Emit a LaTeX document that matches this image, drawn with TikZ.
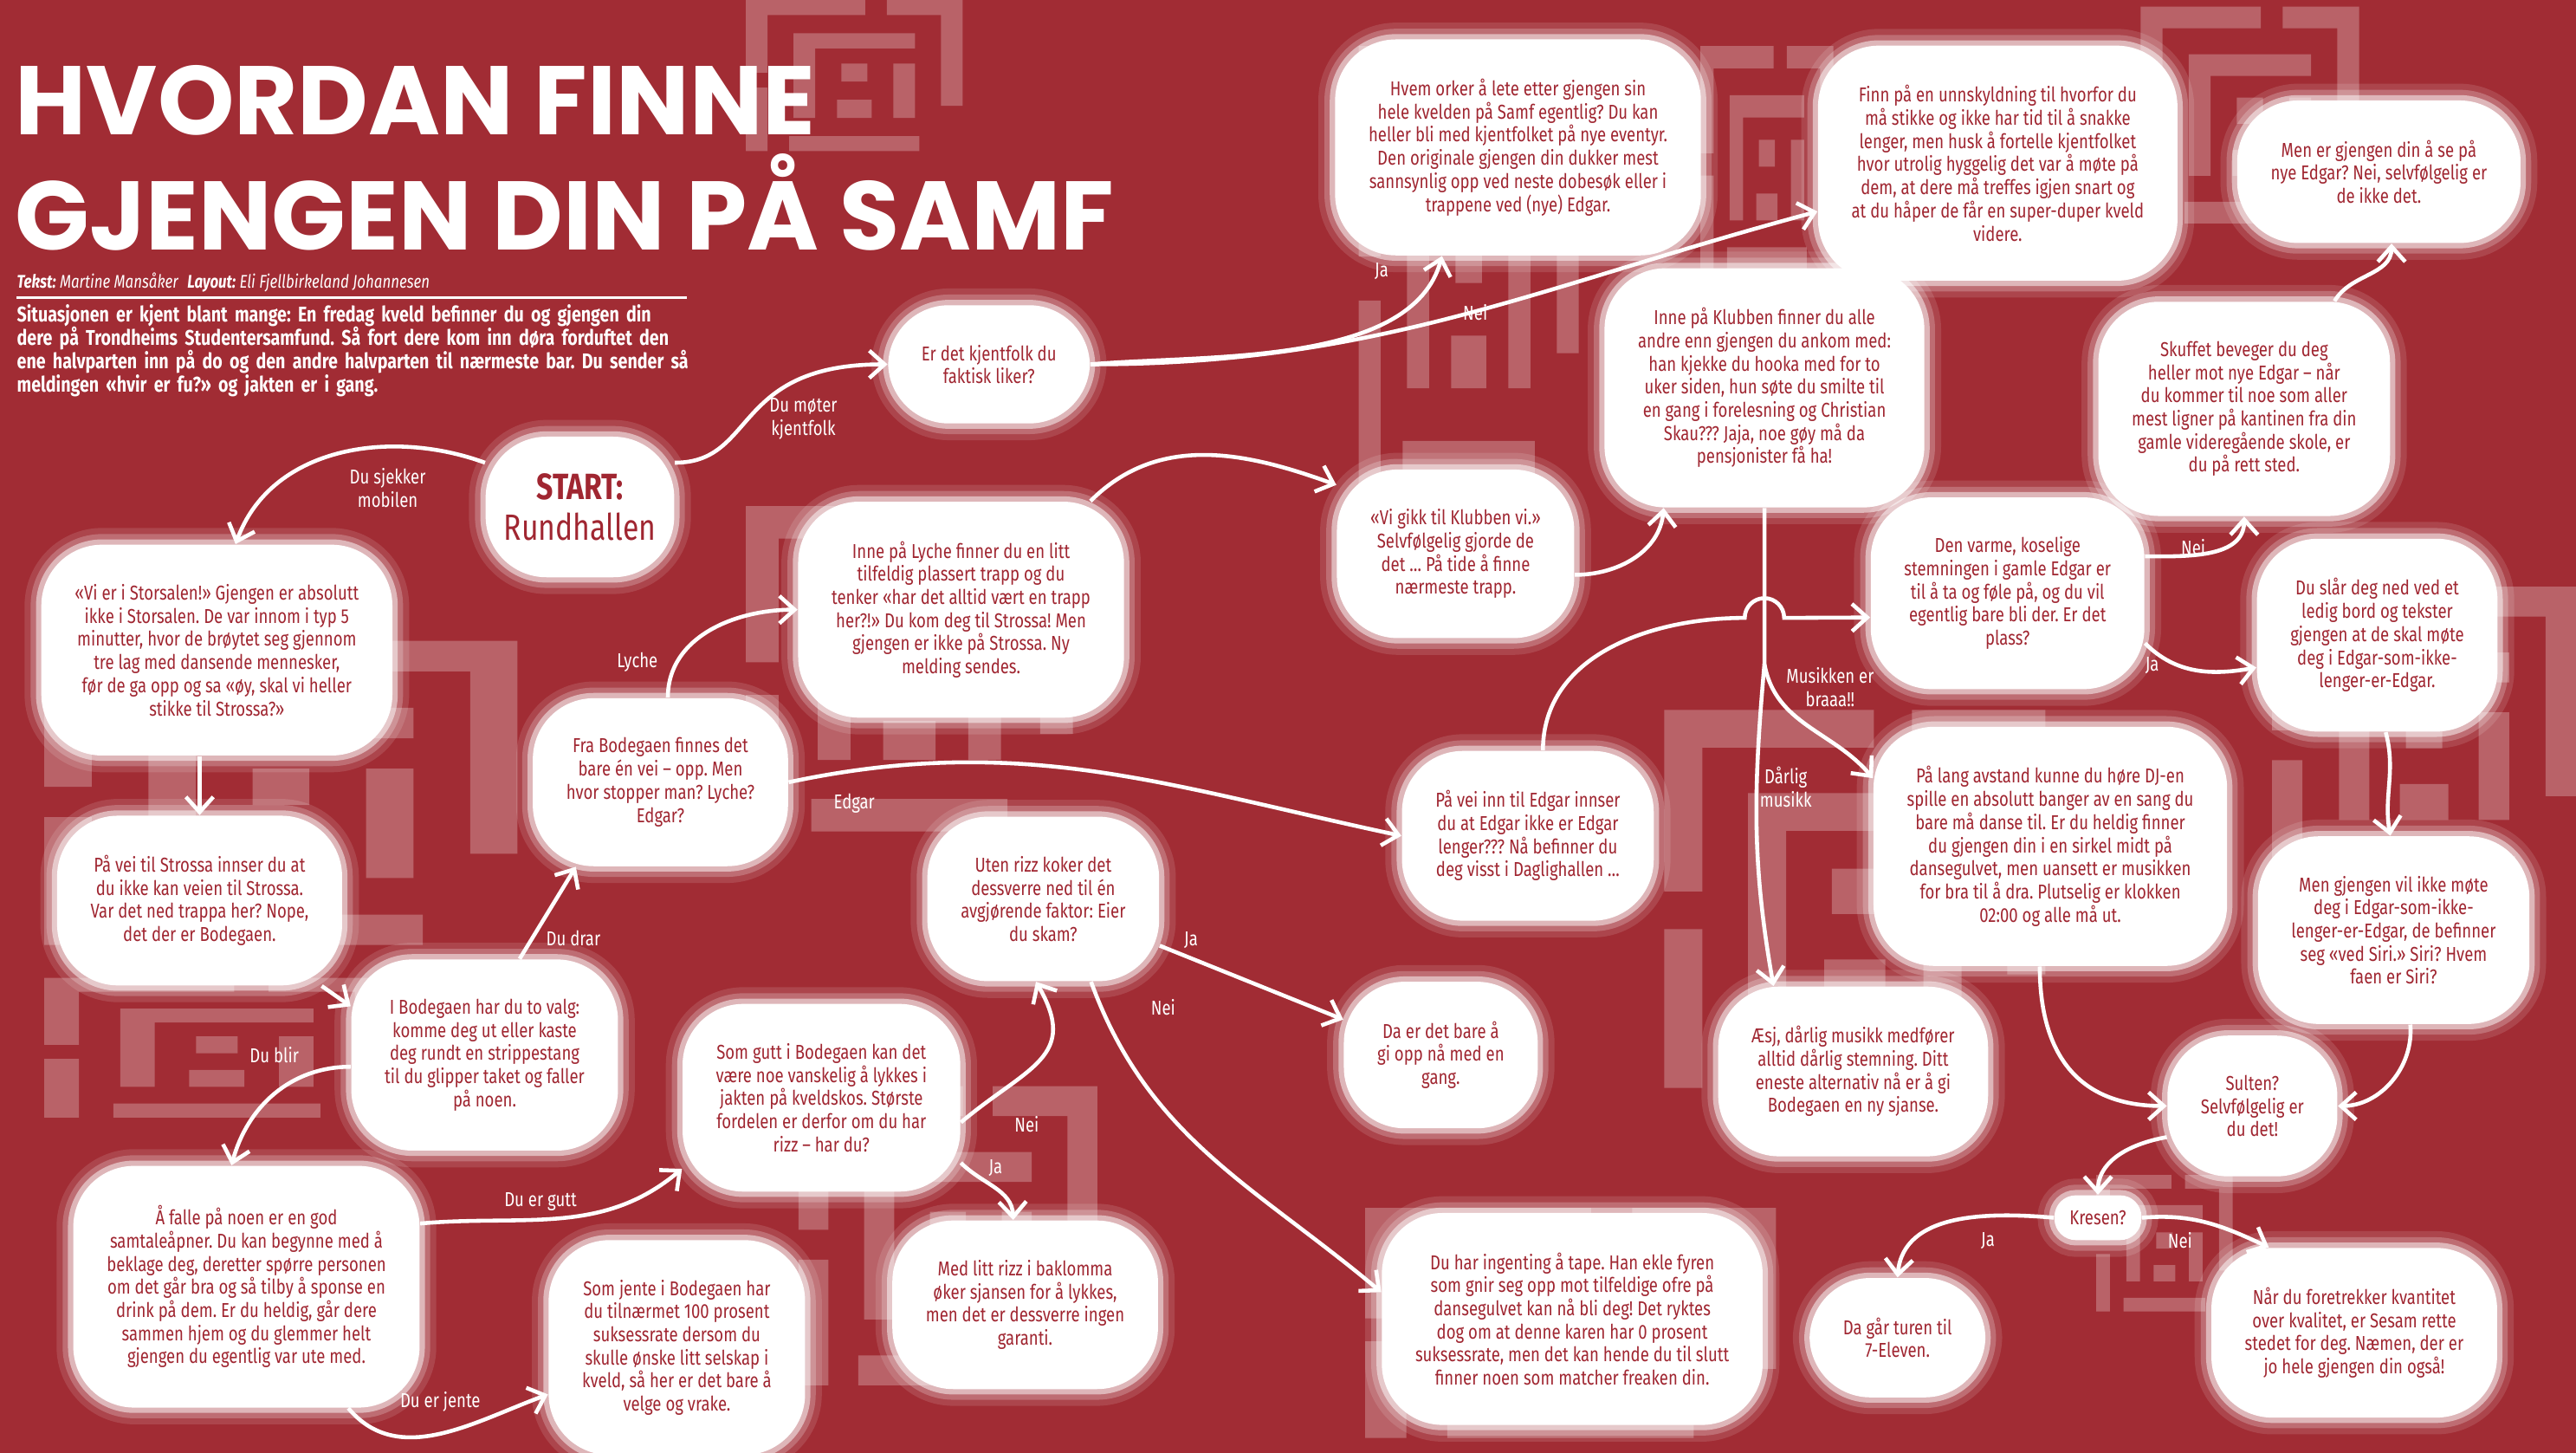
\documentclass[tikz,border=0pt]{standalone}
\usepackage{fontspec}
\usepackage{tikz}
\usetikzlibrary{arrows.meta,calc}
\setmainfont{Fira Sans}[FakeStretch=0.8]
\newfontfamily\titlefont{Poppins}
\definecolor{samfred}{RGB}{161,44,52}
\definecolor{ink}{RGB}{160,38,49}
\newcommand\cloudfont{\fontsize{6.6}{7.6}\selectfont}
\newcommand\startfont{\fontsize{12}{13.5}\selectfont}
\newcommand\mazeblock[4]{%
  % #1,#2: lower left corner, #3: width, #4: height
  \begin{scope}[shift={(#1,#2)}, xscale=#3, yscale=#4]
    \fill[tile] (0,0) rectangle (.1,.42) (0,.52) rectangle (.1,1)
      (.1,.9) rectangle (.55,1) (.65,.9) rectangle (1,1) (.9,.3) rectangle (1,.9)
      (.2,0) rectangle (.8,.1) (.22,.22) rectangle (.32,.78) (.32,.68) rectangle (.78,.78)
      (.68,.22) rectangle (.78,.58) (.42,.22) rectangle (.58,.34) (.44,.46) rectangle (.56,.58);
  \end{scope}}

\begin{document}
\frenchspacing
\begin{tikzpicture}[x=0.18967mm, y=0.18967mm,
  tile/.style={fill=white, opacity=.26},
  puff/.style={rectangle, rounded corners=20pt, fill=white, text=ink, font=\cloudfont, align=center,
    inner xsep=11pt, inner ysep=13pt,
    preaction={draw=white, line width=11pt, opacity=.12},
    preaction={draw=white, line width=7pt, opacity=.22},
    preaction={draw=white, line width=3.5pt, opacity=.5}},
  wire/.style={draw=white, line width=1.3pt, -{Straight Barb[length=5pt, width=9pt]}},
  lbl/.style={text=white, font=\cloudfont, align=center, inner sep=1pt}]
\fill[samfred] (0,0) rectangle (1568,-884);
\useasboundingbox (0,0) rectangle (1568,-884);

% background maze
\mazeblock{454}{-92}{132}{92}
\mazeblock{27}{-575}{288}{185}
\mazeblock{27}{-680}{210}{85}
\mazeblock{454}{-506}{199}{198}
\mazeblock{827}{-295}{134}{267}
\mazeblock{1035}{-164}{81}{136}
\mazeblock{1303}{-136}{133}{132}
\mazeblock{1383}{-539}{185}{182}
\mazeblock{1013}{-662}{232}{230}
\mazeblock{831}{-875}{250}{140}
\mazeblock{486}{-843}{182}{182}
\mazeblock{1276}{-798}{83}{83}

% heading
\node[anchor=base west, inner sep=0, text height=23pt, text depth=0pt, text=white, font=\titlefont\bfseries\fontsize{32}{38}\selectfont] (title1) at (9,-82) {HVORDAN FINNE};
\node[anchor=base west, inner sep=0, text height=23pt, text depth=0pt, text=white, font=\titlefont\bfseries\fontsize{32}{38}\selectfont] (title2) at (9,-152) {GJENGEN DIN PÅ SAMF};
\node[anchor=west, inner sep=0, text=white, font=\fontsize{6}{7}\selectfont\itshape] (byline) at (10,-172) {\textbf{Tekst:} Martine Mansåker\enspace\textbf{Layout:} Eli Fjellbirkeland Johannesen};
\draw[white, line width=.8pt] (10,-181) -- (418,-181);
\node[anchor=north west, inner sep=0, text=white, font=\bfseries\fontsize{7}{7.7}\selectfont, text width=77.95mm] (intro) at (10,-185) {\noindent
\makebox[77.95mm][s]{Situasjonen er kjent blant mange: En fredag kveld befinner du og gjengen din}\\
\makebox[77.95mm][s]{dere på Trondheims Studentersamfund. Så fort dere kom inn døra forduftet den}\\
\makebox[77.95mm][s]{ene halvparten inn på do og den andre halvparten til nærmeste bar. Du sender så}\\
meldingen «hvir er fu?» og jakten er i gang.};

% clouds
\node[puff, font=\startfont, inner xsep=6pt, inner ysep=12pt] (start) at (353,-308.5) {\textbf{START:}\\Rundhallen};
\node[puff] (storsalen) at (132,-395.6) {«Vi er i Storsalen!» Gjengen er absolutt\\ikke i Storsalen. De var innom i typ 5\\minutter, hvor de brøytet seg gjennom\\tre lag med dansende mennesker,\\før de ga opp og sa «øy, skal vi heller\\stikke til Strossa?»};
\node[puff] (strossa) at (121.5,-548) {På vei til Strossa innser du at\\du ikke kan veien til Strossa.\\Var det ned trappa her? Nope,\\det der er Bodegaen.};
\node[puff] (valg) at (295,-642) {I Bodegaen har du to valg:\\komme deg ut eller kaste\\deg rundt en strippestang\\til du glipper taket og faller\\på noen.};
\node[puff] (fra) at (402,-476) {Fra Bodegaen finnes det\\bare én vei – opp. Men\\hvor stopper man? Lyche?\\Edgar?};
\node[puff] (falle) at (150,-783) {Å falle på noen er en god\\samtaleåpner. Du kan begynne med å\\beklage deg, deretter spørre personen\\om det går bra og så tilby å sponse en\\drink på dem. Er du heldig, går dere\\sammen hjem og du glemmer helt\\gjengen du egentlig var ute med.};
\node[puff] (lyche) at (585,-371) {Inne på Lyche finner du en litt\\tilfeldig plassert trapp og du\\tenker «har det alltid vært en trapp\\her?!» Du kom deg til Strossa! Men\\gjengen er ikke på Strossa. Ny\\melding sendes.};
\node[puff] (kjentfolk) at (602,-221.7) {Er det kjentfolk du\\faktisk liker?};
\node[puff] (eventyr) at (924,-89.7) {Hvem orker å lete etter gjengen sin\\hele kvelden på Samf egentlig? Du kan\\heller bli med kjentfolket på nye eventyr.\\Den originale gjengen din dukker mest\\sannsynlig opp ved neste dobesøk eller i\\trappene ved (nye) Edgar.};
\node[puff] (unnskyld) at (1216,-99.3) {Finn på en unnskyldning til hvorfor du\\må stikke og ikke har tid til å snakke\\lenger, men husk å fortelle kjentfolket\\hvor utrolig hyggelig det var å møte på\\dem, at dere må treffes igjen snart og\\at du håper de får en super-duper kveld\\videre.};
\node[puff] (nyeedgar) at (1448,-104.5) {Men er gjengen din å se på\\nye Edgar? Nei, selvfølgelig er\\de ikke det.};
\node[puff] (klubben) at (1074,-236) {Inne på Klubben finner du alle\\andre enn gjengen du ankom med:\\han kjekke du hooka med for to\\uker siden, hun søte du smilte til\\en gang i forelesning og Christian\\Skau??? Jaja, noe gøy må da\\pensjonister få ha!};
\node[puff] (vigikk) at (886,-337) {«Vi gikk til Klubben vi.»\\Selvfølgelig gjorde de\\det … På tide å finne\\nærmeste trapp.};
\node[puff] (skuffet) at (1366,-248.8) {Skuffet beveger du deg\\heller mot nye Edgar – når\\du kommer til noe som aller\\mest ligner på kantinen fra din\\gamle videregående skole, er\\du på rett sted.};
\node[puff] (varme) at (1222,-361) {Den varme, koselige\\stemningen i gamle Edgar er\\til å ta og føle på, og du vil\\egentlig bare bli der. Er det\\plass?};
\node[puff] (bord) at (1447,-386.5) {Du slår deg ned ved et\\ledig bord og tekster\\gjengen at de skal møte\\deg i Edgar-som-ikke-\\lenger-er-Edgar.};
\node[puff] (daglig) at (930,-508.6) {På vei inn til Edgar innser\\du at Edgar ikke er Edgar\\lenger??? Nå befinner du\\deg visst i Daglighallen …};
\node[puff] (utenrizz) at (635,-547) {Uten rizz koker det\\dessverre ned til én\\avgjørende faktor: Eier\\du skam?};
\node[puff] (gutt) at (500,-668) {Som gutt i Bodegaen kan det\\være noe vanskelig å lykkes i\\jakten på kveldskos. Største\\fordelen er derfor om du har\\rizz – har du?};
\node[puff] (jente) at (412,-820) {Som jente i Bodegaen har\\du tilnærmet 100 prosent\\suksessrate dersom du\\skulle ønske litt selskap i\\kveld, så her er det bare å\\velge og vrake.};
\node[puff] (rizz) at (624,-794) {Med litt rizz i baklomma\\øker sjansen for å lykkes,\\men det er dessverre ingen\\garanti.};
\node[puff] (giopp) at (877,-642) {Da er det bare å\\gi opp nå med en\\gang.};
\node[puff] (ingenting) at (957,-802.6) {Du har ingenting å tape. Han ekle fyren\\som gnir seg opp mot tilfeldige ofre på\\dansegulvet kan nå bli deg! Det ryktes\\dog om at denne karen har 0 prosent\\suksessrate, men det kan hende du til slutt\\finner noen som matcher freaken din.};
\node[puff] (aesj) at (1128,-652) {Æsj, dårlig musikk medfører\\alltid dårlig stemning. Ditt\\eneste alternativ nå er å gi\\Bodegaen en ny sjanse.};
\node[puff] (dj) at (1248,-515) {På lang avstand kunne du høre DJ-en\\spille en absolutt banger av en sang du\\bare må danse til. Er du heldig finner\\du gjengen din i en sirkel midt på\\dansegulvet, men uansett er musikken\\for bra til å dra. Plutselig er klokken\\02:00 og alle må ut.};
\node[puff] (siri) at (1457,-566) {Men gjengen vil ikke møte\\deg i Edgar-som-ikke-\\lenger-er-Edgar, de befinner\\seg «ved Siri.» Siri? Hvem\\faen er Siri?};
\node[puff] (sulten) at (1371,-673) {Sulten?\\Selvfølgelig er\\du det!};
\node[puff, inner xsep=5pt, inner ysep=5pt, rounded corners=7pt] (kresen) at (1277,-741) {Kresen?};
\node[puff] (eleven) at (1155,-814) {Da går turen til\\7-Eleven.};
\node[puff] (sesam) at (1433,-811) {Når du foretrekker kvantitet\\over kvalitet, er Sesam rette\\stedet for deg. Næmen, der er\\jo hele gjengen din også!};

% connectors
\coordinate (split) at (1074,-404);
\coordinate (hop) at (1062,-376);
\draw[wire] (start.155) to[out=160, in=70] (storsalen.80);
\draw[wire] (start.25) .. controls +(50,0) and +(-95,0) .. (kjentfolk.west);
\draw[wire] (storsalen.south -| strossa.north) -- (strossa.north);
\draw[wire] (strossa) -- (valg.160);
\draw[wire] (valg.70) -- (fra.225);
\draw[wire] (valg.185) to[out=180, in=75] (falle.97);
\draw[wire] (fra.85) to[out=90, in=180] (lyche.west);
\draw[wire] (fra.east) to[out=12, in=168] (daglig.west);
\draw[wire] (falle.20) to[out=5, in=220] (gutt.207);
\draw[wire] (falle.-50) to[out=-50, in=200] (jente.200);
\draw[wire] (gutt.-10) to[out=40, in=-60, looseness=1.4] (utenrizz.265);
\draw[wire] (gutt.-25) to[out=-45, in=92] (rizz.98);
\draw[wire] (utenrizz) -- (giopp.160);
\draw[wire] (utenrizz.-60) to[out=-70, in=140] (ingenting.172);
\draw[wire] (kjentfolk.east) to[out=5, in=-105, looseness=.8] (eventyr.235);
\draw[wire] (kjentfolk.east) to[out=0, in=195] (unnskyld.195);
\draw[wire] (lyche.40) to[out=45, in=160] (vigikk.150);
\draw[wire] (vigikk.-10) to[out=0, in=-95] (klubben.230);
\draw[wire] (klubben.south) -- (split) to[out=-80, in=130] (dj.159);
\draw[wire] (split) to[out=-95, in=100] (aesj.133);
\draw[wire] (daglig.80) to[out=90, in=180] (hop) arc[start angle=180, end angle=0, radius=12] -- (varme.190);
\draw[wire] (varme.15) to[out=0, in=-90] (skuffet.south);
\draw[wire] (varme.-20) to[out=-45, in=190] (bord.195);
\draw[wire] (skuffet.50) to[out=60, in=-90] (nyeedgar.-80);
\draw[wire] (bord.-85) to[out=-75, in=100] (siri.92);
\draw[wire] (siri.-80) to[out=-85, in=0] (sulten.east);
\draw[wire] (dj.-95) to[out=-90, in=180, looseness=1.2] (sulten.west);
\draw[wire] (sulten.200) to[out=190, in=90] (kresen.north);
\draw[wire] (kresen.west) to[out=175, in=85] (eleven.north);
\draw[wire] (kresen.east) to[out=5, in=155] (sesam.135);

% connector labels
\node[lbl] (l-mobil) at (236,-297) {Du sjekker\\mobilen};
\node[lbl] (l-kjent) at (489,-255) {Du møter\\kjentfolk};
\node[lbl] (l-lyche) at (388,-403) {Lyche};
\node[lbl] (l-edgar) at (520,-489) {Edgar};
\node[lbl] (l-drar) at (349,-571) {Du drar};
\node[lbl] (l-blir) at (167,-642) {Du blir};
\node[lbl] (l-gutt) at (329,-731) {Du er gutt};
\node[lbl] (l-jente) at (268,-853) {Du er jente};
\node[lbl] (l-nei1) at (625,-684) {Nei};
\node[lbl] (l-ja1) at (606,-711) {Ja};
\node[lbl] (l-ja2) at (725,-572) {Ja};
\node[lbl] (l-nei2) at (708,-613) {Nei};
\node[lbl] (l-ja3) at (841,-165) {Ja};
\node[lbl] (l-nei3) at (898,-190) {Nei};
\node[lbl] (l-braa) at (1114,-418) {Musikken er\\braaa!!};
\node[lbl] (l-darlig) at (1087,-479) {Dårlig\\musikk};
\node[lbl] (l-nei4) at (1335,-333) {Nei};
\node[lbl] (l-ja4) at (1310,-405) {Ja};
\node[lbl] (l-ja5) at (1210,-755) {Ja};
\node[lbl] (l-nei5) at (1327,-755) {Nei};
\end{tikzpicture}
\end{document}
